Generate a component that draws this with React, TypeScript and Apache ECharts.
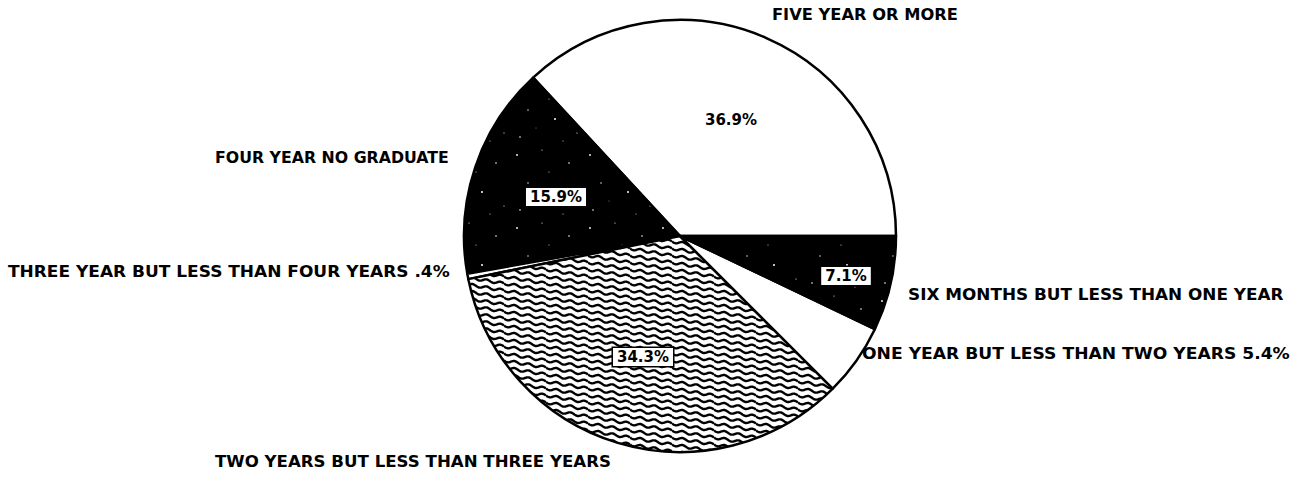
import React, { useEffect, useRef } from "react";
import * as echarts from "echarts";

// ---- data ----
const categories = [
  "FIVE YEAR OR MORE",
  "FOUR YEAR NO GRADUATE",
  "THREE YEAR BUT LESS THAN FOUR YEARS",
  "TWO YEARS BUT LESS THAN THREE YEARS",
  "ONE YEAR BUT LESS THAN TWO YEARS",
  "SIX MONTHS BUT LESS THAN ONE YEAR",
];
const values = [36.9, 15.9, 0.4, 34.3, 5.4, 7.1];
// where each slice's percentage is written: "inside" the slice or after the outer "name"
const pctPlacement = ["inside", "inside", "name", "inside", "name", "inside"];
const fillKinds = ["white", "stipple", "white", "wavy", "white", "stipple"];
const boxedPct = [false, true, false, true, false, true];

// ---- layout (positions only) ----
const CENTER: [number, number] = [680, 236];
const RADIUS = 216;
// inside percentage label centres
const pctPos: ([number, number] | null)[] = [
  [731, 120],
  [556, 197],
  null,
  [643, 357],
  null,
  [846, 276],
];
// outer name labels: [left, centreY, width]
const namePos: [number, number, number][] = [
  [772, 15, 186],
  [215, 158, 234],
  [8, 272, 442],
  [215, 462, 396],
  [862, 354, 428],
  [908, 295, 376],
];

const FONT_FAMILY = '"DejaVu Sans", "Liberation Sans", sans-serif';

function fmtPct(v: number): string {
  return String(v).replace(/^0\./, ".") + "%";
}

function svgUrl(svg: string): string {
  return "data:image/svg+xml;charset=utf-8," + encodeURIComponent(svg);
}

function wavyPattern() {
  const W = 42;
  const H = 7;
  const period = 14;
  let d = "";
  for (let k = -1; k <= 1; k++) {
    let seg = "";
    for (let x = 0; x <= W + 0.001; x += 0.5) {
      const y = 3.5 + k * H + (x * H) / W + 1.2 * Math.sin((2 * Math.PI * x) / period);
      seg += (seg ? " L" : "M") + x.toFixed(2) + " " + y.toFixed(2);
    }
    d += seg + " ";
  }
  const svg = `<svg xmlns="http://www.w3.org/2000/svg" width="${W}" height="${H}"><rect width="${W}" height="${H}" fill="#fff"/><path d="${d}" fill="none" stroke="#000" stroke-width="2.4"/></svg>`;
  return { image: svgUrl(svg), repeat: "repeat", imageWidth: W, imageHeight: H };
}

function stipplePattern() {
  const S = 73;
  const dots: [number, number, number][] = [
    [6, 9, 0.9],
    [31, 4, 0.6],
    [58, 17, 0.8],
    [17, 37, 0.7],
    [44, 46, 1.0],
    [66, 60, 0.6],
    [9, 64, 0.8],
    [38, 26, 0.5],
    [52, 68, 0.5],
    [25, 55, 0.4],
  ];
  const c = dots
    .map(([x, y, r]) => `<circle cx="${x}" cy="${y}" r="${r}" fill="#fff"/>`)
    .join("");
  const svg = `<svg xmlns="http://www.w3.org/2000/svg" width="${S}" height="${S}"><rect width="${S}" height="${S}" fill="#000"/>${c}</svg>`;
  return { image: svgUrl(svg), repeat: "repeat", imageWidth: S, imageHeight: S };
}

function measure(text: string, font: string): number {
  const cv = document.createElement("canvas");
  const ctx = cv.getContext("2d");
  if (!ctx) return text.length * 9;
  ctx.font = font;
  return ctx.measureText(text).width;
}

export default function App() {
  const ref = useRef<HTMLDivElement>(null);

  useEffect(() => {
    if (!ref.current) return;
    const chart = echarts.init(ref.current, undefined, { renderer: "svg" });

    const wavy = wavyPattern();
    const stipple = stipplePattern();
    const fills: Record<string, any> = { white: "#ffffff", wavy, stipple };

    const data = categories.map((name, i) => ({
      name,
      value: values[i],
      itemStyle: { color: fills[fillKinds[i]] },
      label: {
        show: pctPlacement[i] === "inside",
        position: "inside",
        formatter: (p: any) => fmtPct(p.value),
        fontFamily: FONT_FAMILY,
        fontWeight: "bold",
        fontSize: 15,
        color: "#000",
        backgroundColor: boxedPct[i] ? "#fff" : "transparent",
        borderColor: boxedPct[i] ? "#000" : "transparent",
        borderWidth: boxedPct[i] ? 1.5 : 0,
        padding: boxedPct[i] ? [2, 4, 1, 4] : 0,
      },
    }));

    const nameFontSize = 15;
    const nameFont = `bold ${nameFontSize}px "DejaVu Sans"`;
    const graphics = categories.map((name, i) => {
      const text = pctPlacement[i] === "name" ? `${name} ${fmtPct(values[i])}` : name;
      const [left, cy, width] = namePos[i];
      const w = measure(text, nameFont);
      return {
        type: "text",
        x: left,
        y: cy,
        scaleX: width / w,
        silent: true,
        style: {
          text,
          fontFamily: FONT_FAMILY,
          fontWeight: "bold",
          fontSize: nameFontSize,
          fill: "#000",
          align: "left",
          verticalAlign: "middle",
        },
      };
    });

    chart.setOption({
      animation: false,
      backgroundColor: "#ffffff",
      graphic: graphics,
      series: [
        {
          type: "pie",
          center: CENTER,
          radius: RADIUS,
          clockwise: false,
          startAngle: 0,
          avoidLabelOverlap: false,
          silent: true,
          labelLine: { show: false },
          itemStyle: { borderColor: "#000", borderWidth: 2.5 },
          labelLayout: (p: any) => {
            const pos = pctPos[p.dataIndex];
            return pos
              ? { x: pos[0], y: pos[1], align: "center", verticalAlign: "middle" }
              : {};
          },
          data,
        },
      ],
    });

    return () => chart.dispose();
  }, []);

  return (
    <div
      ref={ref}
      style={{ position: "fixed", left: 0, top: 0, width: 1302, height: 480 }}
    />
  );
}
